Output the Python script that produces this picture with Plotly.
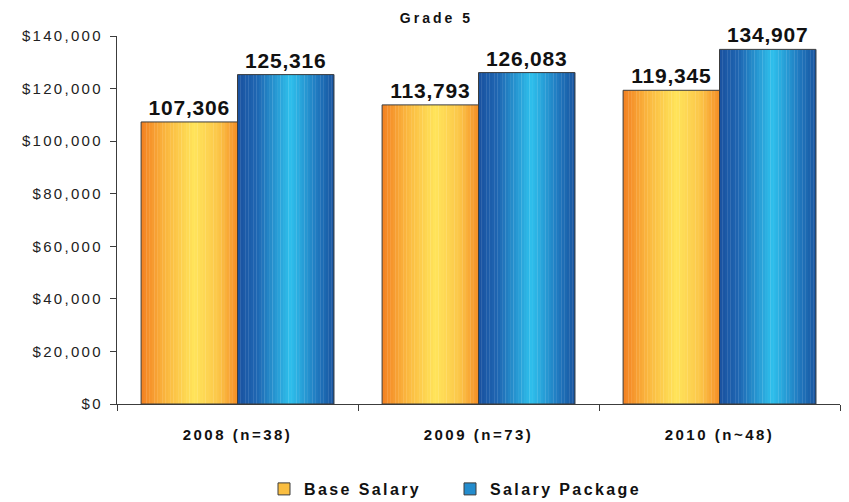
import plotly.graph_objects as go

# ---- data ----
categories = ["2008 (n=38)", "2009 (n=73)", "2010 (n~48)"]
base_salary = [107306, 113793, 119345]
salary_package = [125316, 126083, 134907]
series_names = ["Base Salary", "Salary Package"]
y_tick_values = [0, 20000, 40000, 60000, 80000, 100000, 120000, 140000]
chart_title = "Grade 5"

# ---- styling ----
FONT = "Arial, Liberation Sans, sans-serif"
BAR_W = 0.4
N_STRIPS = 36
orange_stops = [(0.0, (243, 128, 33)), (0.25, (250, 182, 62)), (0.55, (255, 228, 90)),
                (0.8, (252, 198, 72)), (1.0, (245, 142, 38))]
blue_stops = [(0.0, (26, 82, 160)), (0.2, (30, 102, 178)), (0.55, (46, 192, 236)),
              (0.82, (32, 122, 192)), (1.0, (24, 84, 160))]


def grad(stops, t):
    for (t0, c0), (t1, c1) in zip(stops[:-1], stops[1:]):
        if t0 <= t <= t1:
            f = (t - t0) / (t1 - t0) if t1 > t0 else 0
            c = [round(a + (b - a) * f) for a, b in zip(c0, c1)]
            return f"rgb({c[0]},{c[1]},{c[2]})"
    c = stops[-1][1]
    return f"rgb({c[0]},{c[1]},{c[2]})"


def sp(text, px):
    return f"<span style='letter-spacing:{px}px'>{text}</span>"


fig = go.Figure()

series = [(series_names[0], base_salary, orange_stops, -BAR_W, "rgb(250,190,65)", "legend"),
          (series_names[1], salary_package, blue_stops, 0.0, "rgb(35,140,205)", "legend2")]

for name, vals, stops, off0, legcol, leg in series:
    sw = BAR_W / N_STRIPS
    for k in range(N_STRIPS):
        t = (k + 0.5) / N_STRIPS
        fig.add_trace(go.Bar(
            x=categories, y=vals, offset=off0 + k * sw, width=sw * 1.1,
            marker=dict(color=grad(stops, t), line=dict(width=0)),
            showlegend=False, hoverinfo="skip"))
    # outline + value labels
    fig.add_trace(go.Bar(
        x=categories, y=vals, offset=off0, width=BAR_W,
        marker=dict(color="rgba(0,0,0,0)", line=dict(color="#3c3c3c", width=1)),
        text=[sp(f"{v:,}", 0.8) for v in vals], textposition="outside",
        textfont=dict(family=FONT, size=21, color="#111111", weight="bold"),
        cliponaxis=False, showlegend=False, name=name))
    # legend entry
    fig.add_trace(go.Bar(
        x=[categories[0]], y=[None], name=sp(name, 2.4),
        marker=dict(color=legcol, line=dict(color="#3c3c3c", width=1)),
        showlegend=True, legend=leg))

leg_common = dict(orientation="h", xref="container", yref="container",
                  xanchor="left", y=1 - 489 / 502, yanchor="middle",
                  bgcolor="rgba(0,0,0,0)",
                  font=dict(family=FONT, size=16, color="#111111", weight="bold"))

fig.update_layout(
    width=849, height=502, autosize=False,
    barmode="overlay",
    plot_bgcolor="white", paper_bgcolor="white",
    margin=dict(l=117, r=9, t=36, b=98, autoexpand=False),
    font=dict(family=FONT, color="#222222"),
    title=dict(text=sp(chart_title, 3), x=0.514, xref="container", xanchor="center",
               y=1 - 18 / 502, yref="container", yanchor="middle",
               font=dict(family=FONT, size=14, color="#111111", weight="bold")),
    legend=dict(x=264 / 849, **leg_common),
    legend2=dict(x=450 / 849, **leg_common),
    showlegend=True,
)

fig.update_xaxes(
    type="category", range=[-0.5, 2.5],
    tickmode="array", tickvals=categories,
    ticktext=[sp(c, 2.5) for c in categories],
    tickson="boundaries", ticks="outside", ticklen=6, tickcolor="#3c3c3c",
    showline=True, linecolor="#3c3c3c", linewidth=1.2,
    showgrid=False, zeroline=False, ticklabelstandoff=17, automargin=False,
    tickfont=dict(family=FONT, size=15, color="#111111", weight="bold"))

fig.update_yaxes(
    range=[0, 140000], tickmode="array", tickvals=y_tick_values,
    ticktext=[sp(f"${v:,}", 2.3) for v in y_tick_values],
    ticks="outside", ticklen=6, tickcolor="#3c3c3c",
    showline=True, linecolor="#3c3c3c", linewidth=1.2,
    showgrid=False, zeroline=False, ticklabelstandoff=4, automargin=False,
    tickfont=dict(family=FONT, size=15, color="#222222"))

fig.write_html(
    "out.html",
    config={"responsive": False, "displayModeBar": False},
    post_script=("document.body.style.margin='0';"
                 "document.body.style.overflow='hidden';"
                 "Plotly.relayout('{plot_id}', {width: 849, height: 502});"),
)
